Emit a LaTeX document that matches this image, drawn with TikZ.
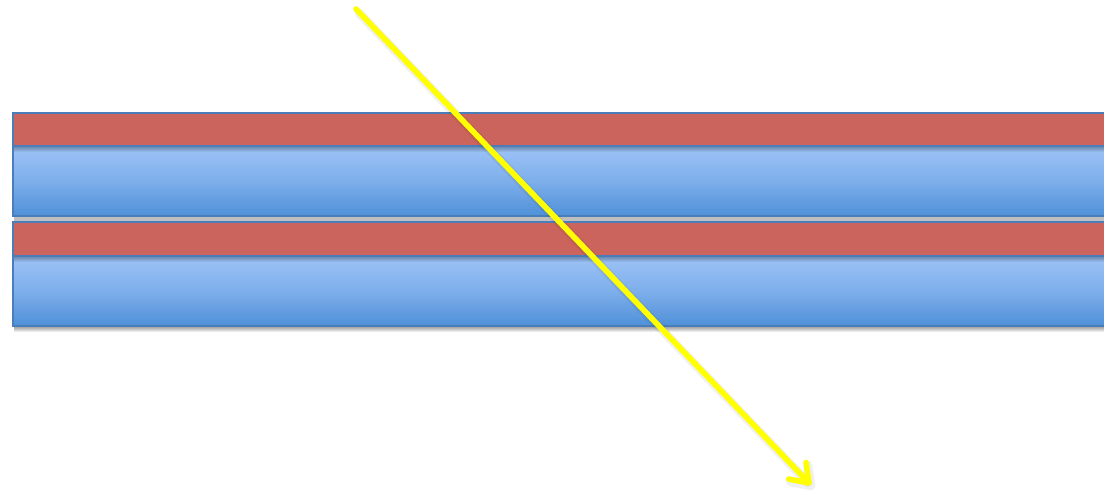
\documentclass[tikz,border=0pt]{standalone}
\usetikzlibrary{arrows.meta}
\definecolor{edgeblue}{HTML}{4A7EBB}
\definecolor{layerred}{HTML}{CB645C}
\definecolor{bluetop}{HTML}{9DC3F7}
\definecolor{bluebot}{HTML}{4F90D8}
\definecolor{beam}{HTML}{FFFF00}
\tikzset{
  redlayer/.style={fill=layerred, draw=edgeblue, line width=1.2},
  bluelayer/.style={top color=bluetop, bottom color=bluebot, middle color=bluetop!60!bluebot, draw=edgeblue, line width=1.2},
  softshadow/.style={fill=black, opacity=#1, draw=none},
  ray/.style={draw=beam, line width=4, line cap=round, -{Straight Barb[length=12, width=17, round]}},
  rayshadow/.style={draw=black, opacity=0.06, line width=6.5, line cap=round, -{Straight Barb[length=12, width=17, round]}}
}
\begin{document}
\begin{tikzpicture}[x=0.025cm, y=-0.025cm]
\useasboundingbox (0,0) rectangle (1104,495);
\fill[white] (0,0) rectangle (1104,495);

% drop shadows under each stack
\fill[black!25] (14,216) rectangle (1104,222);
\foreach \k in {1,...,6}{
  \fill[softshadow=0.08] (14,326) rectangle (1104,326+\k);
}

% upper stack
\path[bluelayer] (13,146) rectangle (1110,216);
\foreach \k in {1,...,5}{\fill[softshadow=0.06] (14,147) rectangle (1104,147+\k);}
\path[redlayer] (13,113) rectangle (1110,146);

% lower stack
\path[bluelayer] (13,256) rectangle (1110,326);
\foreach \k in {1,...,5}{\fill[softshadow=0.06] (14,257) rectangle (1104,257+\k);}
\path[redlayer] (13,222) rectangle (1110,256);

% incident ray
\coordinate (src) at (356,9);
\coordinate (dst) at (811,485);
\coordinate (srcs) at (359,13);
\coordinate (dsts) at (814,489);
\draw[rayshadow] (srcs) -- (dsts);
\draw[ray] (src) -- (dst);
\end{tikzpicture}
\end{document}
